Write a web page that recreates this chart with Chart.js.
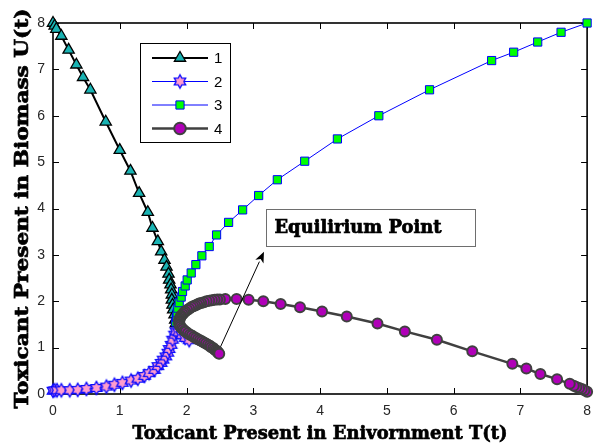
<!DOCTYPE html>
<html>
<head>
<meta charset="utf-8">
<script src="https://cdn.jsdelivr.net/npm/chart.js@4/dist/chart.umd.min.js"></script>
<style>
  html, body { margin: 0; padding: 0; background: #fff; }
  canvas { display: block; }
</style>
</head>
<body>
<canvas id="c" width="600" height="445"></canvas>
<script>
// Trajectories in the (T, U) phase plane
const T1 = [0, 0.025, 0.05, 0.125, 0.234, 0.35, 0.45, 0.56, 0.79, 1.0, 1.16, 1.29, 1.42, 1.49, 1.57, 1.62, 1.67, 1.70, 1.73, 1.74, 1.76, 1.77, 1.78, 1.78, 1.79, 1.80, 1.82, 1.83, 1.84];
const U1 = [8.0, 7.94, 7.87, 7.72, 7.42, 7.10, 6.83, 6.56, 5.87, 5.26, 4.81, 4.33, 3.92, 3.58, 3.29, 3.07, 2.89, 2.74, 2.59, 2.46, 2.36, 2.25, 2.14, 2.03, 1.92, 1.82, 1.71, 1.60, 1.52];

const T2 = [0, 0.025, 0.06, 0.125, 0.25, 0.37, 0.50, 0.65, 0.80, 0.92, 1.04, 1.17, 1.27, 1.37, 1.44, 1.52, 1.57, 1.62, 1.65, 1.69, 1.72, 1.74, 1.77, 1.79, 1.82, 1.84, 1.88, 1.93, 1.98, 2.04];
const U2 = [0.07, 0.08, 0.08, 0.08, 0.08, 0.09, 0.11, 0.13, 0.16, 0.20, 0.24, 0.29, 0.33, 0.39, 0.45, 0.52, 0.60, 0.67, 0.74, 0.81, 0.89, 0.97, 1.06, 1.17, 1.28, 1.35, 1.33, 1.27, 1.21, 1.16];

const T3 = [1.84, 1.85, 1.86, 1.87, 1.89, 1.92, 1.94, 1.98, 2.01, 2.07, 2.14, 2.23, 2.34, 2.45, 2.63, 2.84, 3.08, 3.36, 3.77, 4.26, 4.88, 5.64, 6.57, 6.90, 7.26, 7.61, 8.0];
const U3 = [1.55, 1.65, 1.75, 1.85, 1.97, 2.09, 2.21, 2.33, 2.46, 2.61, 2.79, 2.98, 3.18, 3.43, 3.70, 3.97, 4.28, 4.62, 5.02, 5.50, 6.00, 6.56, 7.19, 7.37, 7.59, 7.80, 8.0];

const T4 = [8.0, 7.96, 7.92, 7.88, 7.84, 7.80, 7.74, 7.55, 7.30, 7.09, 6.88, 6.28, 5.75, 5.27, 4.86, 4.40, 4.03, 3.70, 3.41, 3.15, 2.93, 2.75, 2.58, 2.50, 2.46, 2.42, 2.38, 2.34, 2.30, 2.26, 2.22, 2.19, 2.16, 2.13, 2.10, 2.07, 2.04, 2.01, 1.98, 1.96, 1.94, 1.92, 1.91, 1.90, 1.89, 1.89, 1.89, 1.89, 1.90, 1.91, 1.93, 1.95, 1.97, 1.99, 2.02, 2.05, 2.08, 2.11, 2.14, 2.17, 2.20, 2.23, 2.26, 2.29, 2.32, 2.35, 2.37, 2.40, 2.42, 2.44, 2.46, 2.47, 2.48, 2.49];
const U4 = [0.05, 0.08, 0.11, 0.13, 0.15, 0.18, 0.22, 0.32, 0.43, 0.55, 0.65, 0.92, 1.17, 1.35, 1.52, 1.67, 1.78, 1.87, 1.94, 2.00, 2.03, 2.05, 2.05, 2.04, 2.04, 2.03, 2.02, 2.01, 2.00, 1.98, 1.96, 1.95, 1.93, 1.91, 1.89, 1.87, 1.84, 1.81, 1.78, 1.75, 1.72, 1.69, 1.66, 1.63, 1.60, 1.57, 1.54, 1.51, 1.48, 1.45, 1.42, 1.39, 1.36, 1.34, 1.31, 1.28, 1.26, 1.23, 1.21, 1.18, 1.16, 1.14, 1.11, 1.09, 1.06, 1.04, 1.01, 0.99, 0.96, 0.94, 0.92, 0.90, 0.88, 0.87];

const seriesNames = ['1', '2', '3', '4'];
const axisTicks = [0, 1, 2, 3, 4, 5, 6, 7, 8];
const xTitle = 'Toxicant Present in Enivornment T(t)';
const yTitle = 'Toxicant Present in Biomass U(t)';
const noteText = 'Equilirium Point';

const pts = (T, U) => T.map((t, i) => ({ x: t, y: U[i] }));

// six-pointed star marker
function hexagram(R, fill, stroke) {
  const s = Math.ceil(R * 2 + 4);
  const cv = document.createElement('canvas');
  cv.width = s; cv.height = s;
  const g = cv.getContext('2d');
  const c = s / 2, r = R / Math.sqrt(3);
  g.beginPath();
  for (let i = 0; i < 12; i++) {
    const a = -Math.PI / 2 + i * Math.PI / 6;
    const rr = i % 2 === 0 ? R : r;
    const px = c + rr * Math.cos(a), py = c + rr * Math.sin(a);
    if (i) g.lineTo(px, py); else g.moveTo(px, py);
  }
  g.closePath();
  g.fillStyle = fill; g.fill();
  g.lineWidth = 1.3; g.strokeStyle = stroke; g.stroke();
  return cv;
}
const starImg = hexagram(6.6, '#ff9ccd', '#0a0aff');

const styles = [
  { line: '#000000', lw: 2,   shape: 'triangle', r: 6.5, fill: '#19b3b3', edge: '#000000', ew: 1.3 },
  { line: '#0000ff', lw: 1,   shape: starImg,    r: 6.6, fill: '#ff9ccd', edge: '#0a0aff', ew: 1.3 },
  { line: '#0000ff', lw: 1,   shape: 'rect',     r: 5.8, fill: '#00ff00', edge: '#0000ff', ew: 1 },
  { line: '#404040', lw: 2.5, shape: 'circle',   r: 5,   fill: '#b000b8', edge: '#404040', ew: 2 }
];
const series = [pts(T1, U1), pts(T2, U2), pts(T3, U3), pts(T4, U4)];

const datasets = series.map((d, i) => ({
  label: seriesNames[i],
  data: d,
  showLine: true,
  tension: 0,
  borderColor: styles[i].line,
  borderWidth: styles[i].lw,
  pointStyle: styles[i].shape,
  pointRadius: styles[i].r,
  pointHoverRadius: styles[i].r,
  pointBackgroundColor: styles[i].fill,
  pointBorderColor: styles[i].edge,
  pointBorderWidth: styles[i].ew,
  order: 4 - i,
  clip: false
}));

// box, inward ticks on all four sides
const framePlugin = {
  id: 'frame',
  beforeDatasetsDraw(chart) {
    const { ctx, chartArea: a, scales: { x, y } } = chart;
    ctx.save();
    ctx.strokeStyle = '#000';
    ctx.lineWidth = 1;
    ctx.beginPath();
    axisTicks.forEach(v => {
      const px = Math.round(x.getPixelForValue(v)) + 0.5;
      ctx.moveTo(px, a.bottom); ctx.lineTo(px, a.bottom - 6);
      ctx.moveTo(px, a.top); ctx.lineTo(px, a.top + 6);
      const py = Math.round(y.getPixelForValue(v)) + 0.5;
      ctx.moveTo(a.left, py); ctx.lineTo(a.left + 6, py);
      ctx.moveTo(a.right, py); ctx.lineTo(a.right - 6, py);
    });
    ctx.stroke();
    ctx.lineWidth = 1.6;
    ctx.strokeRect(a.left, a.top, a.right - a.left, a.bottom - a.top);
    ctx.restore();
  }
};

function drawMarker(ctx, st, x, y) {
  ctx.save();
  ctx.fillStyle = st.fill; ctx.strokeStyle = st.edge; ctx.lineWidth = st.ew;
  if (typeof st.shape === 'object') {
    ctx.drawImage(st.shape, x - st.shape.width / 2, y - st.shape.height / 2);
  } else {
    ctx.beginPath();
    if (st.shape === 'triangle') {
      for (let k = 0; k < 3; k++) {
        const a = k * 2 * Math.PI / 3;
        const px = x + Math.sin(a) * st.r, py = y - Math.cos(a) * st.r;
        if (k) ctx.lineTo(px, py); else ctx.moveTo(px, py);
      }
      ctx.closePath();
    } else if (st.shape === 'rect') {
      const s = st.r * Math.SQRT1_2;
      ctx.rect(x - s, y - s, 2 * s, 2 * s);
    } else {
      ctx.arc(x, y, st.r + 0.8, 0, Math.PI * 2);
    }
    ctx.fill(); ctx.stroke();
  }
  ctx.restore();
}

// heavy serif text squeezed or stretched to a given width
function fitText(ctx, text, x, y, width, size, rot) {
  ctx.save();
  ctx.font = 'bold ' + size + 'px "DejaVu Serif", serif';
  const w = ctx.measureText(text).width;
  ctx.translate(x, y);
  if (rot) ctx.rotate(rot);
  ctx.scale(width / w, 1);
  ctx.textAlign = 'center';
  ctx.textBaseline = 'middle';
  ctx.fillStyle = '#000';
  ctx.strokeStyle = '#000';
  ctx.lineWidth = 0.7;
  ctx.fillText(text, 0, 0);
  ctx.strokeText(text, 0, 0);
  ctx.restore();
}

const overlayPlugin = {
  id: 'overlay',
  afterDatasetsDraw(chart) {
    const { ctx, chartArea: a, scales: { x, y } } = chart;

    // legend
    const lx = a.left + 87, ly = a.top + 20, lw = 90, lh = 99;
    ctx.save();
    ctx.fillStyle = '#fff';
    ctx.fillRect(lx, ly, lw, lh);
    ctx.strokeStyle = '#000';
    ctx.lineWidth = 1;
    ctx.strokeRect(lx + 0.5, ly + 0.5, lw, lh);
    seriesNames.forEach((name, i) => {
      const st = styles[i];
      const ry = ly + 15 + i * 23.5;
      ctx.beginPath();
      ctx.strokeStyle = st.line;
      ctx.lineWidth = st.lw;
      ctx.moveTo(lx + 12, ry); ctx.lineTo(lx + 68, ry);
      ctx.stroke();
      drawMarker(ctx, st, lx + 40, ry);
      ctx.fillStyle = '#000';
      ctx.font = '15px "Liberation Sans", Arial, sans-serif';
      ctx.textAlign = 'left';
      ctx.textBaseline = 'middle';
      ctx.fillText(name, lx + 74, ry + 1);
    });
    ctx.restore();

    // annotation arrow and box
    const tx = x.getPixelForValue(2.51), ty = y.getPixelForValue(1.02);
    const hx = x.getPixelForValue(3.16), hy = y.getPixelForValue(3.07);
    ctx.save();
    ctx.strokeStyle = '#000';
    ctx.fillStyle = '#000';
    ctx.lineWidth = 1;
    const ang = Math.atan2(hy - ty, hx - tx);
    const hl = 11, hw = 4.5;
    const bx = hx - hl * Math.cos(ang), by = hy - hl * Math.sin(ang);
    ctx.beginPath(); ctx.moveTo(tx, ty); ctx.lineTo(bx, by); ctx.stroke();
    ctx.beginPath();
    ctx.moveTo(hx, hy);
    ctx.lineTo(bx + hw * Math.sin(ang), by - hw * Math.cos(ang));
    ctx.lineTo(hx - (hl - 3) * Math.cos(ang), hy - (hl - 3) * Math.sin(ang));
    ctx.lineTo(bx - hw * Math.sin(ang), by + hw * Math.cos(ang));
    ctx.closePath(); ctx.fill();
    const bxl = x.getPixelForValue(3.19), byt = y.getPixelForValue(3.98);
    const bw = 209, bh = 37;
    ctx.fillStyle = '#fff';
    ctx.fillRect(bxl, byt, bw, bh);
    ctx.strokeStyle = '#6e6e6e';
    ctx.strokeRect(Math.round(bxl) + 0.5, Math.round(byt) + 0.5, bw, bh);
    ctx.restore();
    fitText(ctx, noteText, bxl + 92, byt + 19, 167, 18, 0);
  },
  afterDraw(chart) {
    const { ctx, chartArea: a } = chart;
    fitText(ctx, xTitle, (a.left + a.right) / 2, 434, 375, 19, 0);
    fitText(ctx, yTitle, 23, (a.top + a.bottom) / 2, 400, 18, -Math.PI / 2);
  }
};

const tickFont = { family: '"Liberation Sans", Arial, sans-serif', size: 14 };

new Chart(document.getElementById('c'), {
  type: 'scatter',
  data: { datasets },
  options: {
    responsive: false,
    animation: false,
    events: [],
    layout: { padding: { top: 23, right: 10, left: 0, bottom: 0 } },
    plugins: { legend: { display: false }, tooltip: { enabled: false } },
    scales: {
      x: {
        type: 'linear', min: 0, max: 8,
        afterBuildTicks: s => { s.ticks = axisTicks.map(v => ({ value: v })); },
        afterFit: s => { s.height = 51; },
        ticks: { padding: 9, font: tickFont, color: '#262626', maxRotation: 0 },
        grid: { display: false, drawTicks: false, tickLength: 0 },
        border: { display: false }
      },
      y: {
        type: 'linear', min: 0, max: 8,
        afterBuildTicks: s => { s.ticks = axisTicks.map(v => ({ value: v })); },
        afterFit: s => { s.width = 53; },
        ticks: { padding: 8, font: tickFont, color: '#262626' },
        grid: { display: false, drawTicks: false, tickLength: 0 },
        border: { display: false }
      }
    }
  },
  plugins: [framePlugin, overlayPlugin]
});
</script>
</body>
</html>
